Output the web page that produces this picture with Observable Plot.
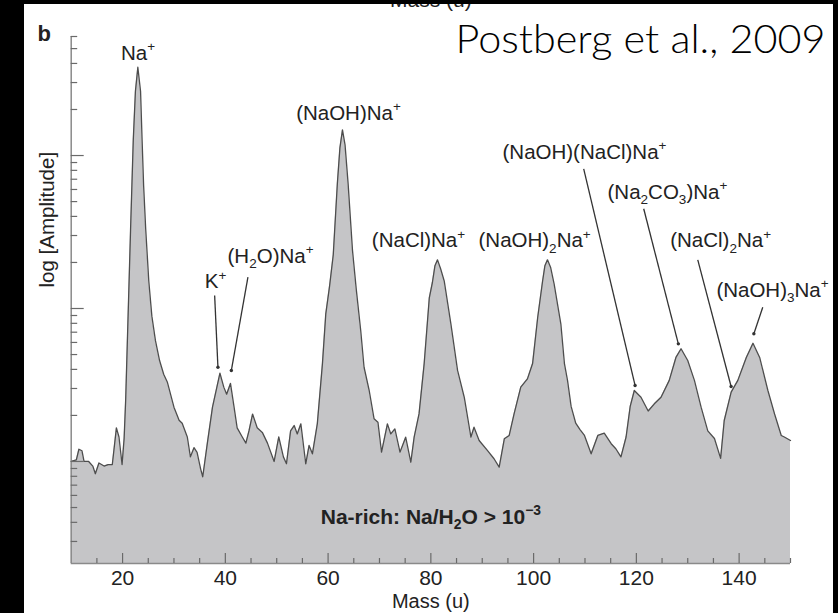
<!DOCTYPE html>
<html><head><meta charset="utf-8">
<script src="https://cdn.jsdelivr.net/npm/d3@7"></script>
<script src="https://cdn.jsdelivr.net/npm/@observablehq/plot@0.6"></script>
<style>
html,body{margin:0;padding:0;background:#fff;}
#wrap{position:relative;width:838px;height:613px;overflow:hidden;background:#fff;}
#chart{position:absolute;left:0;top:0;}
.strip{position:absolute;background:#000;z-index:5;}
</style></head>
<body>
<div id="wrap">
  <div id="chart"></div>
  <div class="strip" style="left:0;top:0;width:24px;height:613px"></div>
  <div class="strip" style="left:0;top:0;width:838px;height:4px"></div>
  <div class="strip" style="left:833px;top:0;width:5px;height:613px"></div>
</div>
<script>
// ---- data: mass (u) and log10 amplitude (arbitrary units) ----
const mass = [10.0,11.0,11.5,12.1,12.5,13.4,14.2,14.7,15.4,16.4,17.2,18.0,18.8,19.3,19.9,20.3,20.6,20.9,21.2,21.55,22.08,22.5,22.97,23.5,23.8,24.1,24.5,25.1,25.7,26.4,27.2,28.0,28.7,30.0,31.0,31.6,32.6,33.2,33.9,34.5,35.2,35.6,36.5,37.5,38.95,39.7,40.25,41.0,41.7,42.3,43.3,44.0,44.6,45.3,46.2,47.2,48.2,49.5,50.4,51.3,51.9,52.7,53.4,54.0,54.7,55.65,56.3,56.95,57.9,58.9,59.55,60.3,61.0,61.8,62.3,62.8,63.3,63.9,64.75,65.5,66.35,67.0,68.0,68.95,69.7,70.4,71.55,72.2,73.0,74.0,75.1,76.1,76.75,77.7,78.7,79.7,80.3,80.8,81.3,81.9,82.6,83.9,85.2,86.5,87.8,88.4,89.4,91.0,92.3,93.3,94.3,95.25,96.2,97.5,98.8,99.8,100.8,101.75,102.2,102.7,103.3,104.0,105.3,106.0,106.6,107.3,108.2,109.0,109.9,111.2,112.5,113.75,115.1,116.0,117.0,118.0,118.8,119.6,120.9,122.3,123.5,124.8,126.4,127.7,128.7,130.0,131.3,132.6,133.9,135.2,136.4,137.1,138.45,139.75,141.4,142.7,144.0,145.6,146.9,148.2,148.8,150.0];
const logAmp = [0.00,0.01,0.08,0.07,0.00,0.00,-0.03,-0.08,-0.01,-0.03,-0.02,-0.02,0.22,0.16,-0.02,0.15,0.40,0.75,1.10,1.51,2.10,2.42,2.577,2.42,2.10,1.80,1.52,1.18,0.95,0.79,0.66,0.57,0.52,0.355,0.27,0.25,0.16,0.03,0.09,0.06,-0.05,-0.10,0.12,0.355,0.577,0.486,0.44,0.51,0.355,0.22,0.16,0.12,0.20,0.31,0.22,0.19,0.12,0.00,0.16,0.03,-0.015,0.20,0.235,0.18,0.246,-0.015,0.105,0.05,0.246,0.64,0.965,1.15,1.35,1.815,2.05,2.168,2.07,1.815,1.38,1.12,0.856,0.616,0.464,0.279,0.257,0.061,0.246,0.18,0.213,0.061,0.159,-0.005,0.159,0.311,0.64,1.07,1.17,1.28,1.318,1.26,1.18,0.90,0.595,0.42,0.159,0.224,0.137,0.072,0.018,-0.037,0.148,0.17,0.311,0.486,0.54,0.64,0.943,1.18,1.28,1.318,1.27,1.16,0.90,0.64,0.53,0.36,0.25,0.21,0.17,0.05,0.17,0.185,0.116,0.083,0.03,0.16,0.36,0.464,0.42,0.33,0.377,0.42,0.53,0.68,0.737,0.66,0.53,0.355,0.20,0.15,0.02,0.268,0.453,0.53,0.68,0.773,0.68,0.464,0.31,0.17,0.16,0.137];

// peak annotations (text anchor in mass / log amplitude)
const labelText = ["Na^+","K^+","(H_2O)Na^+","(NaOH)Na^+","(NaCl)Na^+","(NaOH)_2Na^+","(NaOH)(NaCl)Na^+","(Na_2CO_3)Na^+","(NaCl)_2Na^+","(NaOH)_3Na^+"];
const labelMass = [23.0,38.1,48.8,63.97,77.6,100.2,109.9,126.05,136.4,146.5];
const labelLog  = [2.627,1.131,1.30,2.235,1.399,1.399,1.98,1.719,1.399,1.078];

// leader lines: start (near label) -> end (at peak)
const leaderMass1 = [37.92,44.4,109.75,121.43,131.95,144.6];
const leaderLog1  = [1.085,1.205,1.913,1.652,1.318,1.008];
const leaderMass2 = [38.56,41.17,119.75,128.17,138.44,142.87];
const leaderLog2  = [0.616,0.595,0.497,0.769,0.49,0.835];

const xMajorTicks = [20,40,60,80,100,120,140];
const xMinorTicks = [15,25,30,35,45,50,55,65,70,75,85,90,95,105,110,115,125,130,135,145,150];

const Y_MIN = -0.667, Y_MAX = Math.log10(600);
const W = 838, H = 613, ML = 70.7, MR = 48, MT = 36, MB = 50;
const plotW = W - ML - MR, plotH = H - MT - MB;

const spectrum = mass.map((m, i) => ({m, v: logAmp[i]}));
const labels = labelText.map((t, i) => ({t, x: labelMass[i], y: labelLog[i]}));
const leaders = leaderMass1.map((x1, i) => ({x1, y1: leaderLog1[i], x2: leaderMass2[i], y2: leaderLog2[i]}));

// log-axis tick positions (1..9 per decade)
const yMinor = [], yMajor = [];
for (let n = -1; n <= 2; n++) for (let k = 1; k <= 9; k++) {
  const v = n + Math.log10(k);
  if (v < Y_MIN - 1e-6 || v > Y_MAX + 1e-6) continue;
  (k === 1 ? yMajor : yMinor).push(v);
}

const FONT = "'Liberation Sans', Arial, Helvetica, sans-serif";
const INK = "#222";

const svg = Plot.plot({
  width: W, height: H,
  marginLeft: ML, marginRight: MR, marginTop: MT, marginBottom: MB,
  x: {domain: [10, 150], axis: null},
  y: {domain: [Y_MIN, Y_MAX], axis: null},
  style: {fontFamily: FONT, fontSize: "20px", background: "#fff", overflow: "visible"},
  marks: [
    Plot.area(spectrum, {x1: "m", y1: Y_MIN, y2: "v", fill: "#c5c5c7"}),
    Plot.line(spectrum, {x: "m", y: "v", stroke: "#4d4d4d", strokeWidth: 1.3}),
    Plot.ruleX([10], {stroke: "#8a8a8a", strokeWidth: 1.5}),
    Plot.ruleY([Y_MIN], {stroke: "#8a8a8a", strokeWidth: 1.5}),
    Plot.tickY(yMinor, {y: d => d, insetRight: plotW - 6.5, stroke: "#6a6a6a", strokeWidth: 1.2}),
    Plot.tickY(yMajor, {y: d => d, insetRight: plotW - 13, stroke: "#6a6a6a", strokeWidth: 1.2}),
    Plot.tickX(xMinorTicks, {x: d => d, insetTop: plotH - 5, stroke: "#6a6a6a", strokeWidth: 1.2}),
    Plot.tickX(xMajorTicks, {x: d => d, insetTop: plotH - 10, stroke: "#6a6a6a", strokeWidth: 1.2}),
    Plot.text(xMajorTicks, {x: d => d, y: Y_MIN, dy: 21, lineAnchor: "bottom", text: d => String(d), fill: INK, fontSize: 21}),
    Plot.text([0], {frameAnchor: "bottom", dy: 44, lineAnchor: "bottom", text: () => "Mass (u)", fill: INK, fontSize: 20}),
    Plot.text([0], {frameAnchor: "left", dx: -23.7, dy: -12.5, rotate: -90, text: () => "log [Amplitude]", fill: INK, fontSize: 20.5}),
    Plot.text([0], {frameAnchor: "bottom", dy: -40, lineAnchor: "bottom", text: () => "Na-rich: Na/H_2O > 10^{−3}", fill: INK, fontSize: 21, fontWeight: "bold"}),
    Plot.link(leaders, {x1: "x1", y1: "y1", x2: "x2", y2: "y2", stroke: "#333", strokeWidth: 1.3}),
    Plot.dot(leaders, {x: "x2", y: "y2", r: 1.7, fill: "#333"}),
    Plot.text(labels, {x: "x", y: "y", text: "t", textAnchor: "middle", lineAnchor: "bottom", fill: INK, fontSize: 20.5}),
    Plot.text([0], {frameAnchor: "top-left", dx: -33.7, dy: 4, textAnchor: "start", lineAnchor: "bottom", text: () => "b", fill: INK, fontSize: 22, fontWeight: "bold"}),
    Plot.text([0], {frameAnchor: "top-right", dx: 35, dy: 16, textAnchor: "end", lineAnchor: "bottom", text: () => "Postberg et al., 2009", fill: "#000", fontSize: 39, fontWeight: 300, fontFamily: "Lato, 'Open Sans', sans-serif"}),
    Plot.text([0], {frameAnchor: "top", dy: -29.5, lineAnchor: "bottom", text: () => "Mass (u)", fill: INK, fontSize: 21})
  ]
});
document.getElementById("chart").appendChild(svg);

// render _sub and ^sup markup as real tspans
const NS = "http://www.w3.org/2000/svg";
function richify(t) {
  const s = t.textContent;
  if (!/[_^]/.test(s)) return;
  const fs = parseFloat(getComputedStyle(t).fontSize) || 20;
  const re = /([_^])(\{[^}]*\}|.)/g;
  t.textContent = "";
  let last = 0, shift = 0, m;
  const add = (str, size, dy) => {
    const ts = document.createElementNS(NS, "tspan");
    ts.textContent = str;
    if (size) ts.setAttribute("font-size", size);
    if (dy) ts.setAttribute("dy", dy);
    t.appendChild(ts);
  };
  while ((m = re.exec(s))) {
    if (m.index > last) { add(s.slice(last, m.index), null, -shift); shift = 0; }
    let body = m[2];
    if (body[0] === "{") body = body.slice(1, -1);
    const off = m[1] === "_" ? 0.28 * fs : -0.4 * fs;
    add(body, 0.66 * fs, off - shift);
    shift = off;
    last = re.lastIndex;
  }
  if (last < s.length) add(s.slice(last), null, -shift);
}
svg.querySelectorAll("text").forEach(richify);
// stretch the credit line to the reference's width
svg.querySelectorAll("text").forEach(t => {
  if (t.textContent.startsWith("Postberg")) {
    t.setAttribute("textLength", 370);
    t.setAttribute("lengthAdjust", "spacingAndGlyphs");
  }
});
</script>
</body></html>
